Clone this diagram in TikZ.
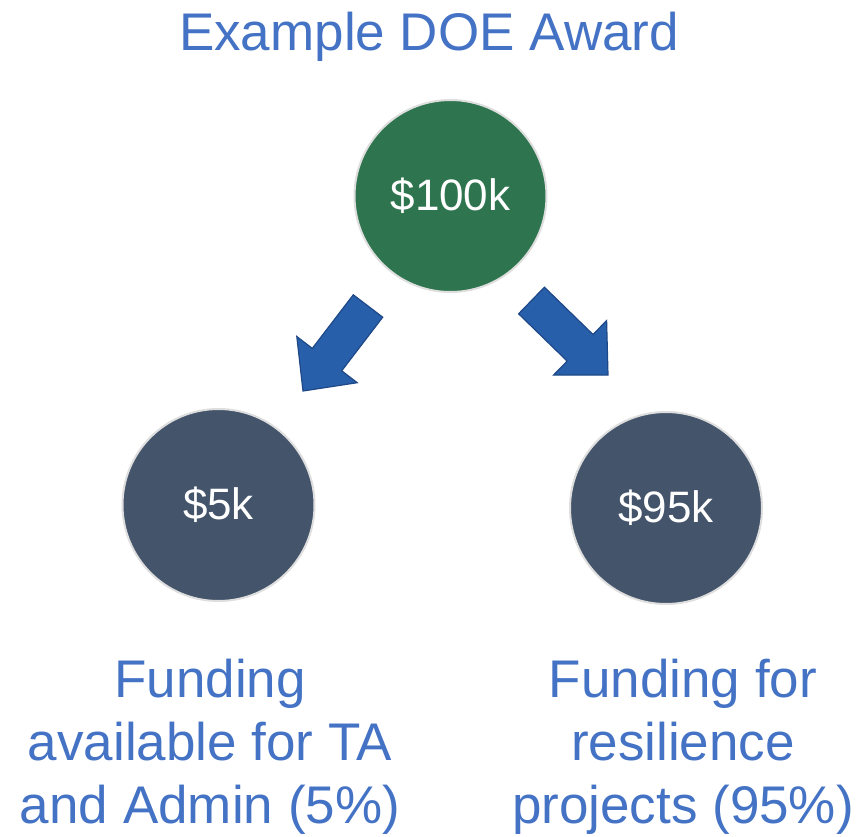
\documentclass[tikz,border=0pt]{standalone}
\usepackage{fontspec}
\setmainfont{Liberation Sans}
\definecolor{titleblue}{RGB}{68,114,196}
\definecolor{awardgreen}{RGB}{46,117,79}
\definecolor{splitnavy}{RGB}{68,84,106}
\definecolor{rimgray}{RGB}{222,222,222}
\definecolor{arrowfill}{RGB}{40,95,170}
\definecolor{arrowedge}{RGB}{30,72,135}
\tikzset{
  amount/.style={circle, draw=rimgray, line width=2pt, minimum size=192pt, inner sep=0pt,
    text=white, font=\fontsize{44}{53}\selectfont},
  caption/.style={text=titleblue, align=center, inner sep=0pt, anchor=north,
    font=\fontsize{53}{63}\selectfont},
  blockarrow/.style={fill=arrowfill, draw=arrowedge, line width=1.2pt, line join=miter}
}
\begin{document}
\begin{tikzpicture}[x=1pt,y=-1pt]
\useasboundingbox (0,0) rectangle (857,836);
\node[text=titleblue, font=\fontsize{53}{63}\selectfont, anchor=base, inner sep=0pt] (title) at (429,50) {Example DOE Award};
\node[amount, fill=awardgreen] (award) at (450.5,196) {\$100k};
\node[amount, fill=splitnavy] (ta) at (218.5,505) {\$5k};
\node[amount, fill=splitnavy] (res) at (666,508) {\$95k};
% block arrows
\draw[blockarrow] (353.3,294.8) -- (382.7,317.2) -- (341.7,370.8) -- (357.2,382.7) -- (303,391) -- (296.8,336.5) -- (312.3,348.4) -- cycle;
\draw[blockarrow] (544.4,287.2) -- (518.6,313.8) -- (567.2,361.1) -- (553.6,375.0) -- (608,375) -- (606.6,320.6) -- (593.0,334.5) -- cycle;
\node[caption] (talabel) at (210,659) {Funding\\available for TA\\and Admin (5\%)};
\node[caption] (reslabel) at (683,659) {Funding for\\resilience\\projects (95\%)};
\end{tikzpicture}
\end{document}
